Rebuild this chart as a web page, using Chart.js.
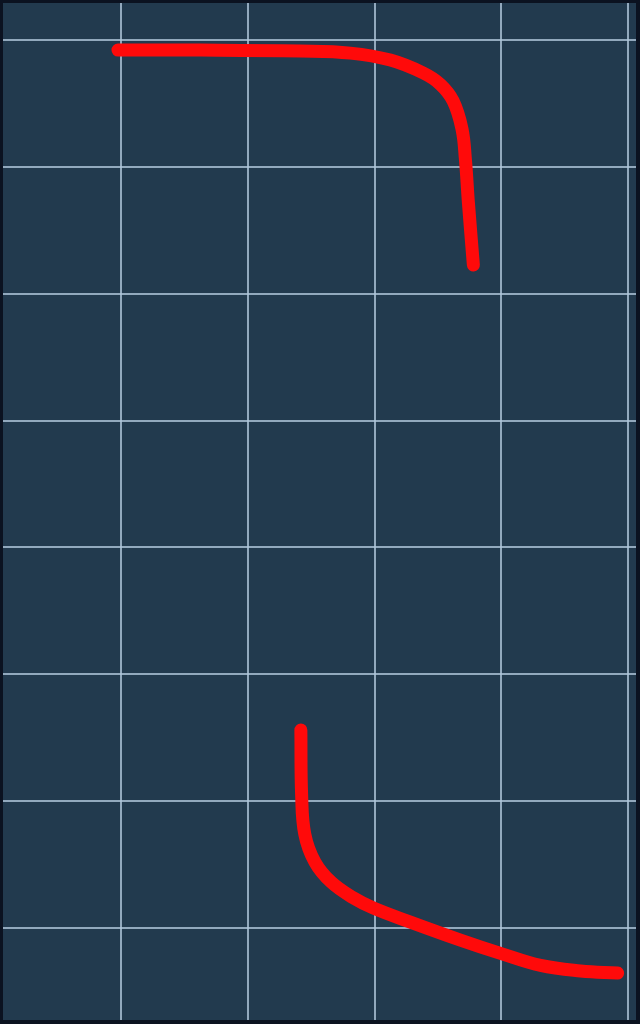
<!DOCTYPE html>
<html><head><meta charset="utf-8">
<script src="https://cdn.jsdelivr.net/npm/chart.js@4"></script>
<style>
html,body{margin:0;padding:0;background:#0b1220;width:640px;height:1024px;overflow:hidden}
#wrap{position:absolute;left:3px;top:3px;width:633px;height:1017px;background:#223a4e}
</style></head><body>
<div id="wrap"><canvas id="c"></canvas></div>
<script>
const upperX = [0.976,1.624,2.414,2.809,3.125,3.385,3.520,3.620,3.690,3.717,3.741,3.780];
const upperY = [7.921,7.921,7.913,7.897,7.842,7.740,7.650,7.520,7.300,7.060,6.715,6.226];
const lowerX = [2.419,2.425,2.450,2.530,2.660,2.830,2.991,3.283,3.678,3.994,4.310,4.626,4.918];
const lowerY = [2.561,2.050,1.740,1.520,1.360,1.240,1.158,1.047,0.905,0.800,0.705,0.662,0.645];
const xTicks = [1,2,3,4,5];
const yTicks = [1,2,3,4,5,6,7,8];

const pts = (xs, ys) => xs.map((x,i)=>({x:x,y:ys[i]}));
const lineStyle = {showLine:true,borderColor:'#ff0a0a',borderWidth:13,borderCapStyle:'round',borderJoinStyle:'round',pointRadius:0,tension:0.4,fill:false};

new Chart(document.getElementById('c'),{
  type:'scatter',
  data:{datasets:[
    Object.assign({data:pts(upperX,upperY)},lineStyle),
    Object.assign({data:pts(lowerX,lowerY)},lineStyle)
  ]},
  options:{
    responsive:true,maintainAspectRatio:false,animation:false,
    layout:{padding:0},
    plugins:{legend:{display:false},tooltip:{enabled:false}},
    scales:{
      x:{type:'linear',min:0.069,max:5.063,
        afterBuildTicks:s=>{s.ticks=xTicks.map(v=>({value:v}));},
        ticks:{display:false},border:{display:false},
        grid:{color:'rgba(175,198,218,0.8)',lineWidth:2,drawTicks:false}},
      y:{type:'linear',min:0.275,max:8.292,
        afterBuildTicks:s=>{s.ticks=yTicks.map(v=>({value:v}));},
        ticks:{display:false},border:{display:false},
        grid:{color:'rgba(175,198,218,0.8)',lineWidth:2,drawTicks:false}}
    }
  }
});
</script></body></html>
